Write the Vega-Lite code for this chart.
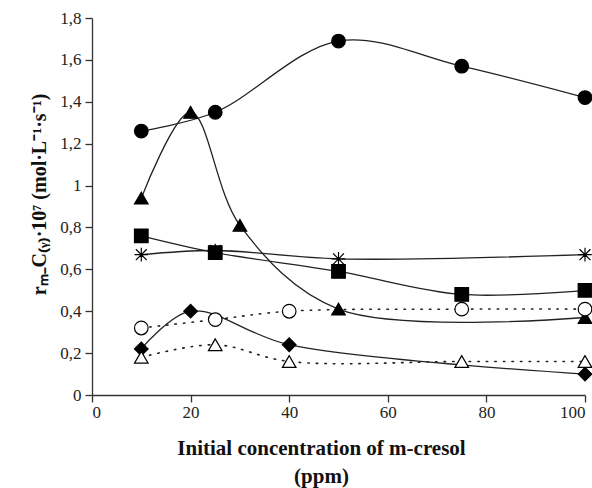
{
  "$schema": "https://vega.github.io/schema/vega-lite/v6.json",
  "width": 493,
  "height": 377,
  "autosize": {"type": "none"},
  "padding": {"left": 92, "top": 18, "right": 7, "bottom": 93},
  "background": "white",
  "config": {
    "view": {"stroke": null},
    "font": "Liberation Serif",
    "axis": {"grid": false, "domainColor": "#333", "tickColor": "#333", "domainWidth": 1.3, "tickWidth": 1.3, "tickSize": 7}
  },
  "data": {
    "values": [
      {"s": "A", "x": 10, "y": 1.26}, {"s": "A", "x": 25, "y": 1.35}, {"s": "A", "x": 50, "y": 1.69}, {"s": "A", "x": 75, "y": 1.57}, {"s": "A", "x": 100, "y": 1.42},
      {"s": "B", "x": 10, "y": 0.94}, {"s": "B", "x": 20, "y": 1.35}, {"s": "B", "x": 30, "y": 0.81}, {"s": "B", "x": 50, "y": 0.41}, {"s": "B", "x": 100, "y": 0.37},
      {"s": "C", "x": 10, "y": 0.76}, {"s": "C", "x": 25, "y": 0.68}, {"s": "C", "x": 50, "y": 0.59}, {"s": "C", "x": 75, "y": 0.48}, {"s": "C", "x": 100, "y": 0.5},
      {"s": "D", "x": 10, "y": 0.67}, {"s": "D", "x": 25, "y": 0.69}, {"s": "D", "x": 50, "y": 0.65}, {"s": "D", "x": 100, "y": 0.67},
      {"s": "E", "x": 10, "y": 0.32}, {"s": "E", "x": 25, "y": 0.36}, {"s": "E", "x": 40, "y": 0.4}, {"s": "E", "x": 75, "y": 0.41}, {"s": "E", "x": 100, "y": 0.41},
      {"s": "F", "x": 10, "y": 0.22}, {"s": "F", "x": 20, "y": 0.4}, {"s": "F", "x": 40, "y": 0.24}, {"s": "F", "x": 100, "y": 0.1},
      {"s": "G", "x": 10, "y": 0.18}, {"s": "G", "x": 25, "y": 0.24}, {"s": "G", "x": 40, "y": 0.16}, {"s": "G", "x": 75, "y": 0.16}, {"s": "G", "x": 100, "y": 0.16}
    ]
  },
  "encoding": {
    "x": {"field": "x", "type": "quantitative", "scale": {"domain": [0, 100], "nice": false}, "axis": {"values": [0, 20, 40, 60, 80, 100], "labelFont": "Liberation Serif", "labelFontSize": 17, "labelColor": "#222", "labelPadding": 2, "title": ["Initial concentration of m-cresol", "(ppm)"], "titleFont": "Liberation Serif", "titleFontSize": 21, "titleFontWeight": "bold", "titleLineHeight": 28, "titlePadding": 17, "titleX": 229, "titleColor": "#111"}},
    "y": {"field": "y", "type": "quantitative", "scale": {"domain": [0, 1.8], "nice": false}, "axis": {"values": [0, 0.2, 0.4, 0.6, 0.8, 1, 1.2, 1.4, 1.6, 1.8], "labelFont": "Liberation Serif", "labelFontSize": 17, "labelColor": "#222", "labelExpr": "replace(format(datum.value, '.1~f'), '.', ',')", "labelPadding": 4, "title": "rₘ₋C₍ᵧ₎·10⁷ (mol·L⁻¹·s⁻¹)", "titleFont": "Liberation Serif", "titleFontSize": 20, "titleFontWeight": "bold", "titlePadding": 10, "titleY": 176, "titleColor": "#111"}}
  },
  "layer": [
    {
      "transform": [{"filter": "indexof(['A','B','C','D','F'], datum.s) >= 0"}],
      "mark": {"type": "line", "interpolate": "catmull-rom", "color": "#222", "strokeWidth": 1.3},
      "encoding": {"detail": {"field": "s"}}
    },
    {
      "transform": [{"filter": "indexof(['E','G'], datum.s) >= 0"}],
      "mark": {"type": "line", "interpolate": "catmull-rom", "color": "#222", "strokeWidth": 1.6, "strokeDash": [1.5, 7], "strokeCap": "round"},
      "encoding": {"detail": {"field": "s"}}
    },
    {
      "mark": {"type": "point", "filled": false, "stroke": "black", "strokeWidth": 1.2, "opacity": 1, "size": 185},
      "encoding": {
        "shape": {"field": "s", "type": "nominal", "legend": null, "scale": {"domain": ["A", "B", "C", "D", "E", "F", "G"], "range": ["circle", "triangle-up", "square", "M0,-1L0,1M-0.8,-0.8L0.8,0.8M-0.8,0.8L0.8,-0.8M-1,0L1,0", "circle", "diamond", "triangle-up"]}},
        "fill": {"field": "s", "type": "nominal", "legend": null, "scale": {"domain": ["A", "B", "C", "D", "E", "F", "G"], "range": ["black", "black", "black", "black", "white", "black", "white"]}}
      }
    }
  ]
}
